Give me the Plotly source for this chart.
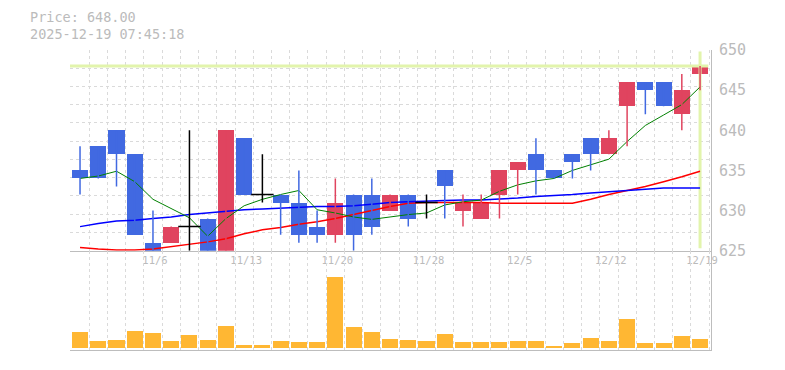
import plotly.graph_objects as go

# ---------------- data ----------------
dates = ["10/30", "10/31", "11/4", "11/5", "11/6", "11/7", "11/10", "11/11", "11/12",
         "11/13", "11/14", "11/17", "11/18", "11/19", "11/20", "11/21", "11/25", "11/26",
         "11/27", "11/28", "12/1", "12/2", "12/3", "12/4", "12/5", "12/8", "12/9",
         "12/10", "12/11", "12/12", "12/15", "12/16", "12/17", "12/18", "12/19"]

opens = [635, 638, 640, 637, 626, 626, 628, 629, 625, 639, 632, 632, 631, 628, 627, 632, 632, 630,
         632, 631, 635, 630, 629, 632, 635, 637, 635, 637, 639, 637, 643, 646, 646, 642, 647]
highs = [638, 638, 640, 637, 630, 628, 640, 629, 640, 639, 637, 632, 635, 630, 634, 632, 634, 632,
         632, 632, 635, 632, 632, 635, 636, 639, 635, 637, 639, 640, 646, 646, 646, 647, 648]
lows = [632, 634, 633, 627, 625, 626, 625, 625, 625, 632, 631, 627, 626, 626, 626, 625, 627, 630,
        628, 629, 629, 628, 629, 629, 632, 632, 634, 634, 635, 637, 638, 642, 643, 640, 645]
closes = [634, 634, 637, 627, 625, 628, 628, 625, 640, 632, 632, 631, 627, 627, 631, 627, 628, 632,
          629, 631, 633, 631, 631, 635, 636, 635, 634, 636, 637, 639, 646, 645, 643, 645, 648]

volumes = [160, 70, 80, 170, 147, 70, 127, 80, 217, 27, 27, 70, 60, 60, 710, 210, 160, 90,
           80, 70, 140, 60, 60, 60, 70, 70, 20, 50, 100, 70, 290, 50, 50, 120, 90]

ma_short = [634.0, 634.3, 634.9, 633.6, 631.4, 630.3, 629.1, 626.8, 629.0, 630.6, 631.4, 632.0,
            632.5, 630.1, 629.7, 629.2, 628.9, 629.2, 629.5, 629.7, 630.7, 631.1, 631.3, 632.4,
            633.2, 633.7, 634.0, 635.0, 635.7, 636.4, 638.6, 640.6, 641.9, 643.2, 645.4]
ma_mid = [628.0, 628.4, 628.7, 628.8, 629.0, 629.2, 629.5, 629.7, 629.9, 630.1, 630.2, 630.3,
          630.4, 630.5, 630.5, 630.6, 630.8, 631.0, 631.1, 631.2, 631.25, 631.3, 631.3, 631.45,
          631.55, 631.75, 631.85, 632.0, 632.2, 632.35, 632.55, 632.65, 632.8, 632.8, 632.8]
ma_long = [625.4, 625.2, 625.1, 625.1, 625.2, 625.5, 625.8, 626.1, 626.5, 627.1, 627.6, 627.9,
           628.3, 628.6, 629.0, 629.5, 630.0, 630.5, 630.9, 631.0, 631.0, 631.0, 631.0, 630.9,
           630.9, 630.95, 630.95, 630.9, 631.4, 632.0, 632.5, 633.0, 633.6, 634.2, 634.9]

tick_labels = ["11/6", "11/13", "11/20", "11/28", "12/5", "12/12", "12/19"]
price_ticks = [625, 630, 635, 640, 645, 650]
stamp = "2025-12-19 07:45:18"

# ---------------- styles ----------------
UP = "#E0445F"
DOWN = "#4169E1"
DOJI = "#000000"
VOL = "#FFB733"
HILITE = "#E2F4AC"
GRID = "#DADADA"
AXIS = "#BDBDBD"
TXT = "#BBBBBB"
MONO = "DejaVu Sans Mono"

n = len(dates)
idx = list(range(n))
body_w = 0.88
xrange = [-0.55, n - 1 + 0.6]
yrange = [price_ticks[0], price_ticks[-1]]

fig = go.Figure()

# highlight of the latest price / latest session (drawn first, under everything)
fig.add_trace(go.Scatter(x=[xrange[0], n - 1 + 0.45], y=[closes[-1], closes[-1]], mode="lines",
                         line=dict(color=HILITE, width=3), hoverinfo="skip"))
fig.add_trace(go.Scatter(x=[n - 1, n - 1], y=[yrange[0] + 0.3, yrange[1] - 0.2], mode="lines",
                         line=dict(color=HILITE, width=3), hoverinfo="skip"))

# moving averages (behind the candles)
for series, col, w in ((ma_long, "#FF0000", 1.5), (ma_mid, "#0000FF", 1.5), (ma_short, "#008000", 1)):
    fig.add_trace(go.Scatter(x=idx, y=series, mode="lines", line=dict(color=col, width=w),
                             hoverinfo="skip"))

# wicks grouped by candle direction
groups = {UP: ([], []), DOWN: ([], []), DOJI: ([], [])}
colors = []
for i in idx:
    o, c = opens[i], closes[i]
    col = UP if c > o else (DOWN if c < o else DOJI)
    colors.append(col)
    gx, gy = groups[col]
    gx += [i, i, None]
    gy += [lows[i], highs[i], None]
for col, (gx, gy) in groups.items():
    fig.add_trace(go.Scatter(x=gx, y=gy, mode="lines", line=dict(color=col, width=1.5),
                             hoverinfo="skip"))

# candle bodies
body_idx = [i for i in idx if opens[i] != closes[i]]
fig.add_trace(go.Bar(
    x=body_idx,
    y=[abs(closes[i] - opens[i]) for i in body_idx],
    base=[min(opens[i], closes[i]) for i in body_idx],
    width=body_w,
    marker=dict(color=[colors[i] for i in body_idx], line=dict(width=0)),
    xaxis="x", yaxis="y", hoverinfo="skip"))

# doji crosses
doji_idx = [i for i in idx if opens[i] == closes[i]]
fig.add_trace(go.Scatter(
    x=doji_idx, y=[opens[i] for i in doji_idx], mode="markers",
    marker=dict(symbol="line-ew", size=16, line=dict(color=DOJI, width=1.5)),
    hoverinfo="skip"))

# volume
fig.add_trace(go.Bar(x=idx, y=volumes, width=body_w, marker=dict(color=VOL, line=dict(width=0)),
                     xaxis="x2", yaxis="y2", hoverinfo="skip"))

# header text
fig.add_annotation(xref="paper", yref="paper", x=-42 / 641, y=1.109, xanchor="left", yanchor="middle",
                   text=f"Price: {closes[-1]:.2f}", showarrow=False,
                   font=dict(family=MONO, size=13.5, color=TXT))
fig.add_annotation(xref="paper", yref="paper", x=-42 / 641, y=1.053, xanchor="left", yanchor="middle",
                   text=stamp, showarrow=False, font=dict(family=MONO, size=13.5, color=TXT))

x_grid = [i - 0.5 for i in range(n + 1)]
y_grid = [625 + k * 25 / 11 for k in range(12)]

fig.update_layout(
    width=785, height=370,
    margin=dict(l=70, r=74, t=50, b=20),
    paper_bgcolor="white", plot_bgcolor="white",
    showlegend=False, barmode="overlay", bargap=0,
    xaxis=dict(domain=[0, 1], anchor="y", range=xrange, fixedrange=True,
               tickmode="array", tickvals=[dates.index(t) for t in tick_labels], ticktext=tick_labels,
               ticks="", showgrid=False, zeroline=False,
               showline=True, linecolor=AXIS, linewidth=1,
               tickfont=dict(family=MONO, size=10.5, color=TXT), ticklabelshift=2,
               minor=dict(tickmode="array", tickvals=x_grid, showgrid=True, gridcolor=GRID,
                          griddash="3px,3px", gridwidth=1, ticks="")),
    yaxis=dict(domain=[0.331, 1], anchor="x", side="right", range=yrange, fixedrange=True,
               tickmode="array", tickvals=price_ticks, ticks="", showgrid=False, zeroline=False,
               showline=True, linecolor=AXIS, linewidth=1,
               tickfont=dict(family=MONO, size=15, color=TXT), ticklabelstandoff=4,
               minor=dict(tickmode="array", tickvals=y_grid, showgrid=True, gridcolor=GRID,
                          griddash="3px,3px", gridwidth=1, ticks="")),
    xaxis2=dict(domain=[0, 1], anchor="y2", range=xrange, matches="x", fixedrange=True,
                showticklabels=False, ticks="", showgrid=False, zeroline=False,
                showline=True, linecolor=AXIS, linewidth=1,
                minor=dict(tickmode="array", tickvals=x_grid, showgrid=True, gridcolor=GRID,
                           griddash="3px,3px", gridwidth=1, ticks="")),
    yaxis2=dict(domain=[0, 0.331], anchor="x2", side="right", range=[-23, 970], fixedrange=True,
                showticklabels=False, ticks="", showgrid=False, zeroline=False,
                showline=True, linecolor=AXIS, linewidth=1),
)

fig.write_html("out.html")
